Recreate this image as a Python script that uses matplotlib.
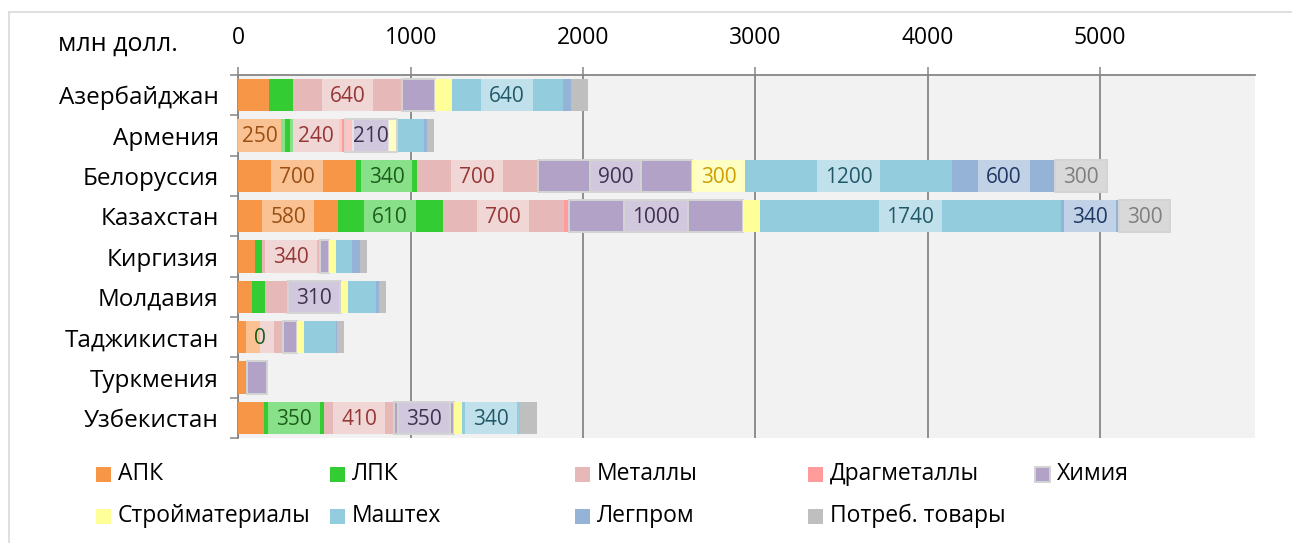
import matplotlib
matplotlib.use("Agg")
import matplotlib.pyplot as plt
from matplotlib.patches import Rectangle
from matplotlib.lines import Line2D
import numpy as np

plt.rcParams['font.family'] = ['Open Sans', 'DejaVu Sans']

countries = ['Азербайджан', 'Армения', 'Белоруссия', 'Казахстан', 'Киргизия',
             'Молдавия', 'Таджикистан', 'Туркмения', 'Узбекистан']

series_names = ['АПК', 'ЛПК', 'Металлы', 'Драгметаллы', 'Химия',
                'Стройматериалы', 'Маштех', 'Легпром', 'Потреб. товары']

apk    = [178, 246, 683, 577, 97, 77, 126, 43, 147]
lpk    = [137, 73, 354, 609, 39, 77, 0, 8, 350]
metal  = [636, 267, 696, 704, 338, 126, 135, 0, 408]
drag   = [0, 80, 8, 31, 0, 6, 0, 0, 0]
chem   = [188, 209, 894, 1006, 52, 309, 77, 114, 348]
stroy  = [99, 39, 306, 100, 41, 41, 43, 0, 45]
mash   = [644, 162, 1200, 1747, 91, 162, 184, 0, 337]
leg    = [50, 17, 605, 338, 48, 17, 5, 0, 0]
potreb = [99, 41, 290, 294, 41, 41, 45, 0, 100]

apk_lbl    = [None, '250', '700', '580', None, None, None, None, None]
lpk_lbl    = [None, None, '340', '610', None, None, '0', None, '350']
metal_lbl  = ['640', '240', '700', '700', '340', None, None, None, '410']
drag_lbl   = [None] * 9
chem_lbl   = [None, '210', '900', '1000', None, '310', None, None, '350']
stroy_lbl  = [None, None, '300', None, None, None, None, None, None]
mash_lbl   = ['640', None, '1200', '1740', None, None, None, None, '340']
leg_lbl    = [None, None, '600', '340', None, None, None, None, None]
potreb_lbl = [None, None, '300', '300', None, None, None, None, None]

xticks = [0, 1000, 2000, 3000, 4000, 5000]

values = [apk, lpk, metal, drag, chem, stroy, mash, leg, potreb]
labels = [apk_lbl, lpk_lbl, metal_lbl, drag_lbl, chem_lbl, stroy_lbl,
          mash_lbl, leg_lbl, potreb_lbl]
colors = ['#F79646', '#33CC33', '#E6B9B8', '#FF9B9B', '#B3A2C7',
          '#FFFF99', '#93CDDD', '#95B3D7', '#BFBFBF']
text_colors = ['#9A4E12', '#1E5C1E', '#953735', '#953735', '#3F3151',
               '#CC9E00', '#215968', '#1F3864', '#7F7F7F']
edge = [None, None, None, None, '#D4D4D4', None, None, None, None]

W, H = 1292, 543
fig = plt.figure(figsize=(W / 100, H / 100), dpi=100)
ax = fig.add_axes([238.3 / W, 1 - 438 / H, (1255 - 238.3) / W, (438 - 75) / H])
ax.set_facecolor('#F2F2F2')

y = np.arange(len(countries))
bar_h = 0.8
left = np.zeros(len(countries))
for i, vals in enumerate(values):
    v = np.array(vals, dtype=float)
    if edge[i]:
        ax.barh(y, v, left=left, height=bar_h, color=colors[i],
                edgecolor=edge[i], linewidth=1.4, zorder=3)
    else:
        ax.barh(y, v, left=left, height=bar_h, color=colors[i],
                linewidth=0, zorder=3)
    values[i] = (left.copy(), v)
    left = left + v

ax.set_xlim(0, 5900)
ax.set_ylim(len(countries) - 0.5, -0.5)

ax.xaxis.tick_top()
ax.set_xticks(xticks)
ax.set_xticklabels([str(t) for t in xticks], fontsize=16.5)
ax.tick_params(axis='x', direction='out', length=6, width=1.1,
               color='#868686', pad=12)
ax.grid(axis='x', color='#868686', linewidth=1.3, zorder=2)
ax.set_axisbelow(False)

ax.set_yticks(y)
ax.set_yticklabels(countries, fontsize=17.5)
ax.set_yticks(np.arange(-0.5, len(countries), 1), minor=True)
ax.tick_params(axis='y', which='major', length=0, pad=14)
ax.tick_params(axis='y', which='minor', direction='out', length=6,
               width=1.1, color='#868686')

for s in ['right', 'bottom']:
    ax.spines[s].set_visible(False)
for s in ['top', 'left']:
    ax.spines[s].set_color('#868686')
    ax.spines[s].set_linewidth(1.3)

# value labels with light boxes
renderer = fig.canvas.get_renderer()
px_per_unit = ax.bbox.width / (ax.get_xlim()[1] - ax.get_xlim()[0])
pad_px = 8
for i, (lefts, v) in enumerate(values):
    for j in range(len(countries)):
        lbl = labels[i][j]
        if lbl is None:
            continue
        xc = lefts[j] + v[j] / 2
        t = ax.text(xc, y[j] + 0.03, lbl, ha='center', va='center',
                    fontsize=15, color=text_colors[i], zorder=6, clip_on=False)
        wpx = t.get_window_extent(renderer).width + 2 * pad_px
        wd = wpx / px_per_unit
        ec = '#D4D4D4' if i in (4, 8) else 'none'
        ax.add_patch(Rectangle((xc - wd / 2, y[j] - bar_h / 2), wd, bar_h,
                               facecolor='white', alpha=0.42, edgecolor='none',
                               zorder=4, clip_on=False))
        if ec != 'none':
            ax.add_patch(Rectangle((xc - wd / 2, y[j] - bar_h / 2), wd, bar_h,
                                   facecolor='none', edgecolor=ec, linewidth=1.4,
                                   zorder=5, clip_on=False))

# unit label
fig.text(58 / W, 1 - 44 / H, 'млн долл.', fontsize=18, ha='left', va='center')

# manual legend
col_x = [96, 330, 575, 808, 1035]
row_y = [474, 516]
for k, name in enumerate(series_names):
    r, c = divmod(k, 5)
    x0 = col_x[c]
    yc = row_y[r]
    fig.add_artist(Rectangle((x0 / W, 1 - (yc + 7.5) / H), 15 / W, 15 / H,
                             transform=fig.transFigure, facecolor=colors[k],
                             edgecolor=edge[k] if edge[k] else 'none',
                             linewidth=1.4))
    fig.text((x0 + 22) / W, 1 - yc / H, name, fontsize=16.5, ha='left',
             va='center')

# outer frame
fig.add_artist(Line2D([9 / W, 1], [1 - 12 / H, 1 - 12 / H],
                      transform=fig.transFigure, color='#D9D9D9', linewidth=1.2))
fig.add_artist(Line2D([9 / W, 9 / W], [0, 1 - 12 / H],
                      transform=fig.transFigure, color='#D9D9D9', linewidth=1.2))

fig.savefig('out.png', dpi=100)
